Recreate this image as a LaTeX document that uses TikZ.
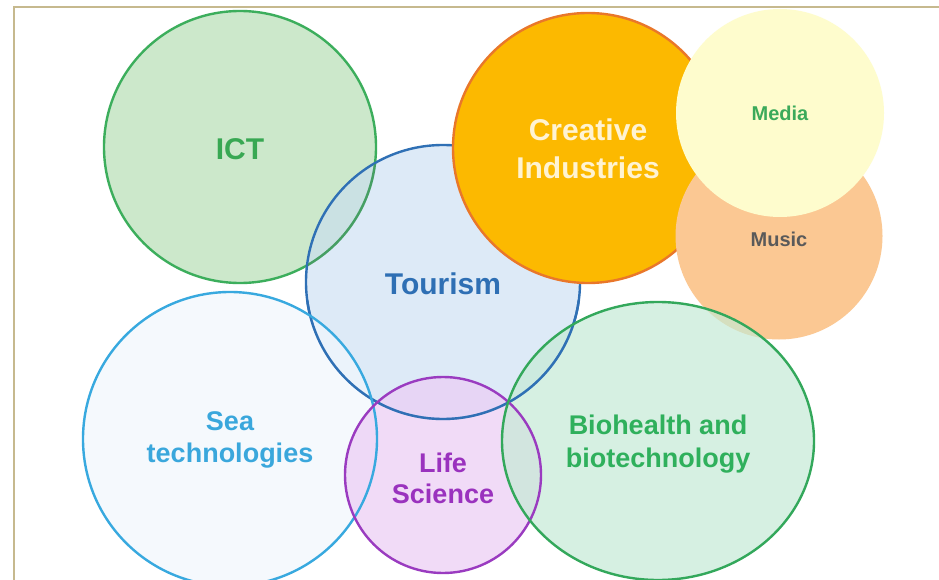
\documentclass[tikz,border=0pt]{standalone}
\usepackage{fontspec}
\setmainfont{Liberation Sans}
\usetikzlibrary{shapes.geometric}
\definecolor{ictfill}{HTML}{CCE8CB}
\definecolor{ictline}{HTML}{3CAE5C}
\definecolor{ictText}{HTML}{38A853}
\definecolor{tourfill}{HTML}{C9DEF3}
\definecolor{tourline}{HTML}{2F70B5}
\definecolor{tourText}{HTML}{2E6FB4}
\definecolor{crefill}{HTML}{FCB900}
\definecolor{creline}{HTML}{E9772A}
\definecolor{creText}{HTML}{FFF3D2}
\definecolor{medfill}{HTML}{FEFCCD}
\definecolor{medText}{HTML}{3BAA5A}
\definecolor{musfill}{HTML}{FBC893}
\definecolor{musText}{HTML}{5A5A5A}
\definecolor{seafill}{HTML}{F1F7FD}
\definecolor{sealine}{HTML}{38A9DF}
\definecolor{seaText}{HTML}{3AA7DC}
\definecolor{lifefill}{HTML}{ECCEF5}
\definecolor{lifeline}{HTML}{9A3BC0}
\definecolor{lifeText}{HTML}{9A32BE}
\definecolor{biofill}{HTML}{C4EAD5}
\definecolor{bioline}{HTML}{33A85B}
\definecolor{bioText}{HTML}{2FB05C}
\definecolor{frameline}{HTML}{C6B98E}
\tikzset{
  bubble/.style={circle, inner sep=0pt, line width=2.4pt},
  rim/.style={line width=2.4pt},
  bigtext/.style={align=center, inner sep=0pt, font=\bfseries\fontsize{30}{38}\selectfont},
  midtext/.style={align=center, inner sep=0pt, font=\bfseries\fontsize{27}{32.5}\selectfont},
  smalltext/.style={align=center, inner sep=0pt, font=\bfseries\fontsize{20}{24}\selectfont},
}
\begin{document}
\begin{tikzpicture}[x=1pt,y=-1pt]
\useasboundingbox (0,0) rectangle (939,580);
\fill[white] (0,0) rectangle (939,580);
\draw[frameline, line width=1.6pt] (14,580) -- (14,7) -- (939,7);
% bubbles
\node[bubble, minimum size=272pt, fill=ictfill, draw=ictline] (ict) at (240,147) {};
\node[bubble, minimum size=274pt, fill=tourfill, fill opacity=0.62, draw=tourline, draw opacity=1] (tour) at (443,282) {};
\begin{scope}
  \clip (tour.center) circle[radius=136pt];
  \draw[rim, ictline!85!black, opacity=0.8] (ict.center) circle[radius=136pt];
\end{scope}
\node[bubble, minimum size=270pt, fill=crefill, draw=creline] (cre) at (588,148) {};
\node[bubble, minimum size=207pt, fill=musfill] (mus) at (779,236) {};
\node[bubble, minimum size=208pt, fill=medfill] (med) at (780,113) {};
\node[bubble, minimum size=294pt, fill=seafill, fill opacity=0.7] (sea) at (230,439) {};
\node[bubble, minimum size=196pt, fill=lifefill, fill opacity=0.72] (life) at (443,475) {};
\node[ellipse, inner sep=0pt, minimum width=312pt, minimum height=278pt, fill=biofill, fill opacity=0.68] (bio) at (658,441) {};
% outlines seen through the lower bubbles
\begin{scope}
  \clip (300,300) rectangle (600,440);
  \draw[rim, tourline] (tour.center) circle[radius=137pt];
\end{scope}
\draw[rim, sealine] (sea.center) circle[radius=147pt];
\draw[rim, lifeline] (life.center) circle[radius=98pt];
\draw[rim, bioline] (bio.center) ellipse[x radius=156pt, y radius=139pt];
% labels
\node[bigtext, text=ictText] (ictlabel) at (240,149) {ICT};
\node[bigtext, text=tourText] (tourlabel) at (443,284) {Tourism};
\node[bigtext, text=creText] (crelabel) at (588,149) {Creative\\Industries};
\node[smalltext, text=medText] (medlabel) at (780,113) {Media};
\node[smalltext, text=musText] (muslabel) at (779,239) {Music};
\node[midtext, text=seaText] (sealabel) at (230,440) {Sea\\technologies};
\node[midtext, text=lifeText, font=\bfseries\fontsize{27}{31}\selectfont] (lifelabel) at (443,478) {Life\\Science};
\node[midtext, text=bioText] (biolabel) at (658,444) {Biohealth and\\biotechnology};
\end{tikzpicture}
\end{document}
